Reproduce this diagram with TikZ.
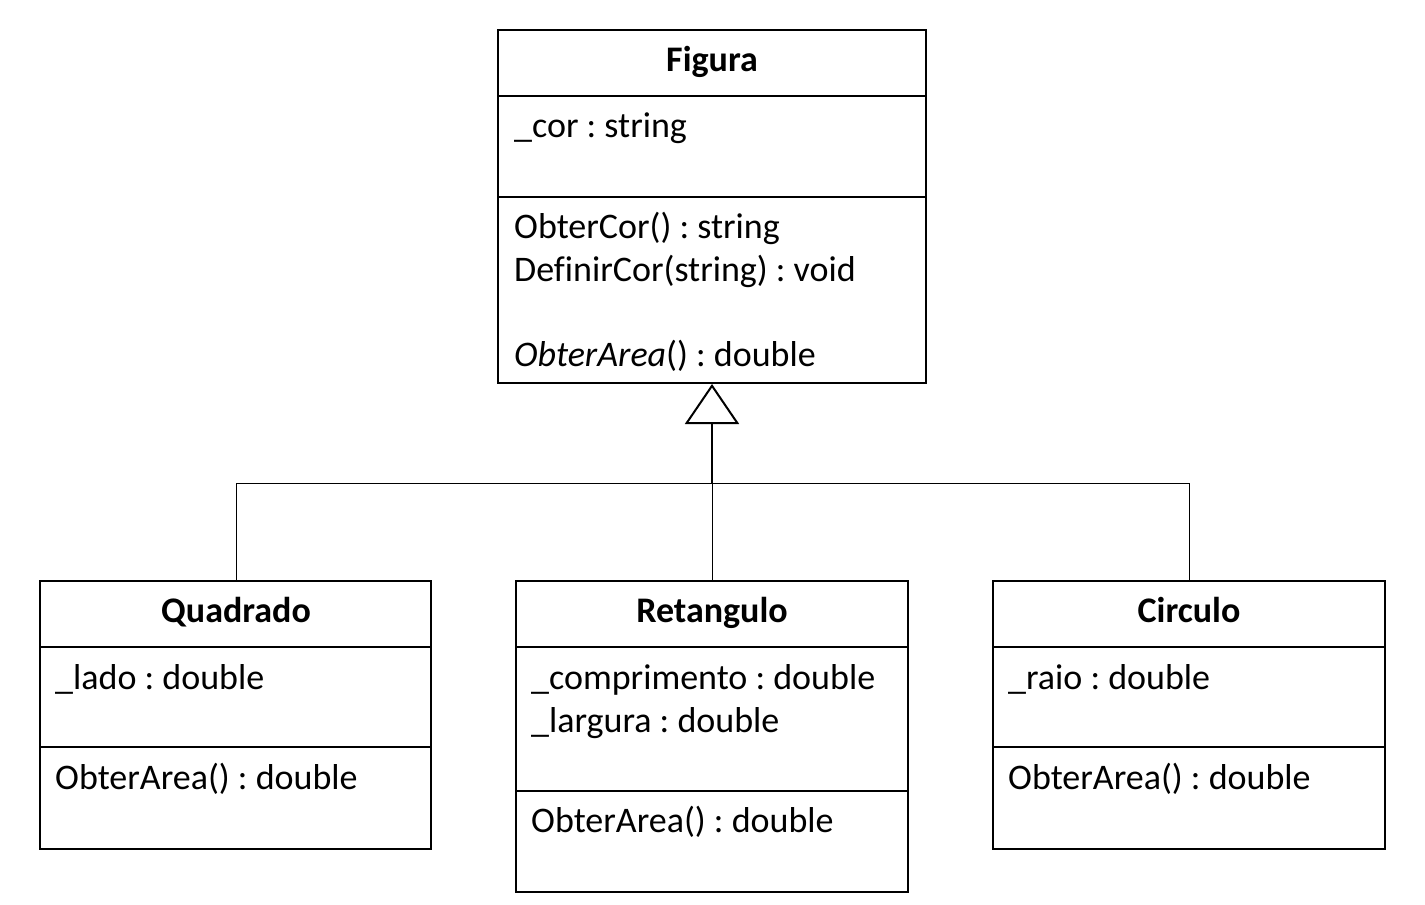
\documentclass[tikz,border=0pt]{standalone}
\usepackage{fontspec}
\setmainfont{Carlito}[Ligatures={NoCommon}]
\frenchspacing
\usetikzlibrary{arrows.meta}
\begin{document}
\begin{tikzpicture}[x=1pt,y=-1pt,
  classbox/.style={draw, line width=2pt, inner sep=0pt, outer sep=0pt, anchor=north west},
  sep/.style={line width=2pt},
  txt/.style={anchor=base west, inner sep=0pt, font=\fontsize{36}{43}\selectfont\frenchspacing},
  ttl/.style={anchor=base, inner sep=0pt, font=\fontsize{36}{43}\selectfont\bfseries},
  conn/.style={line width=1pt},
  inherit/.style={line width=2pt, -{Triangle[open, length=40pt, width=54pt, line width=2pt]}}]
\useasboundingbox (0,0) rectangle (1425,905);
% Figura
\node[classbox, minimum width=428pt, minimum height=353pt] (fig) at (498,30) {};
\draw[sep] (498,96) -- (926,96);
\draw[sep] (498,197) -- (926,197);
\node[ttl] (figT) at (712,71) {Figura};
\node[txt] (figA) at (514,137) {\_cor : string};
\node[txt] (figM1) at (514,238) {ObterCor() : string};
\node[txt] (figM2) at (514,281) {DefinirCor(string) : void};
\node[txt] (figM3) at (514,366) {\textit{ObterArea}() : double};
% Quadrado
\node[classbox, minimum width=391pt, minimum height=268pt] (quad) at (40,581) {};
\draw[sep] (40,647) -- (431,647);
\draw[sep] (40,747) -- (431,747);
\node[ttl] (quadT) at (236,622) {Quadrado};
\node[txt] (quadA) at (55,689) {\_lado : double};
\node[txt] (quadM) at (55,789) {ObterArea() : double};
% Retangulo
\node[classbox, minimum width=392pt, minimum height=311pt] (ret) at (516,581) {};
\draw[sep] (516,647) -- (908,647);
\draw[sep] (516,791) -- (908,791);
\node[ttl] (retT) at (712,622) {Retangulo};
\node[txt] (retA1) at (531,689) {\_comprimento : double};
\node[txt] (retA2) at (531,732) {\_largura : double};
\node[txt] (retM) at (531,832) {ObterArea() : double};
% Circulo
\node[classbox, minimum width=392pt, minimum height=268pt] (circ) at (993,581) {};
\draw[sep] (993,647) -- (1385,647);
\draw[sep] (993,747) -- (1385,747);
\node[ttl] (circT) at (1189,622) {Circulo};
\node[txt] (circA) at (1008,689) {\_raio : double};
\node[txt] (circM) at (1008,789) {ObterArea() : double};
% connectors
\coordinate (jct) at (712,483);
\coordinate (jq) at (236,483);
\coordinate (jc) at (1189,483);
\draw[inherit] (jct) -- (712,384);
\draw[conn] (jq) -- (jc);
\draw[conn] (jq) -- (jq |- quad.north);
\draw[conn] (jc) -- (jc |- circ.north);
\draw[conn] (jct) -- (jct |- ret.north);
\end{tikzpicture}
\end{document}
